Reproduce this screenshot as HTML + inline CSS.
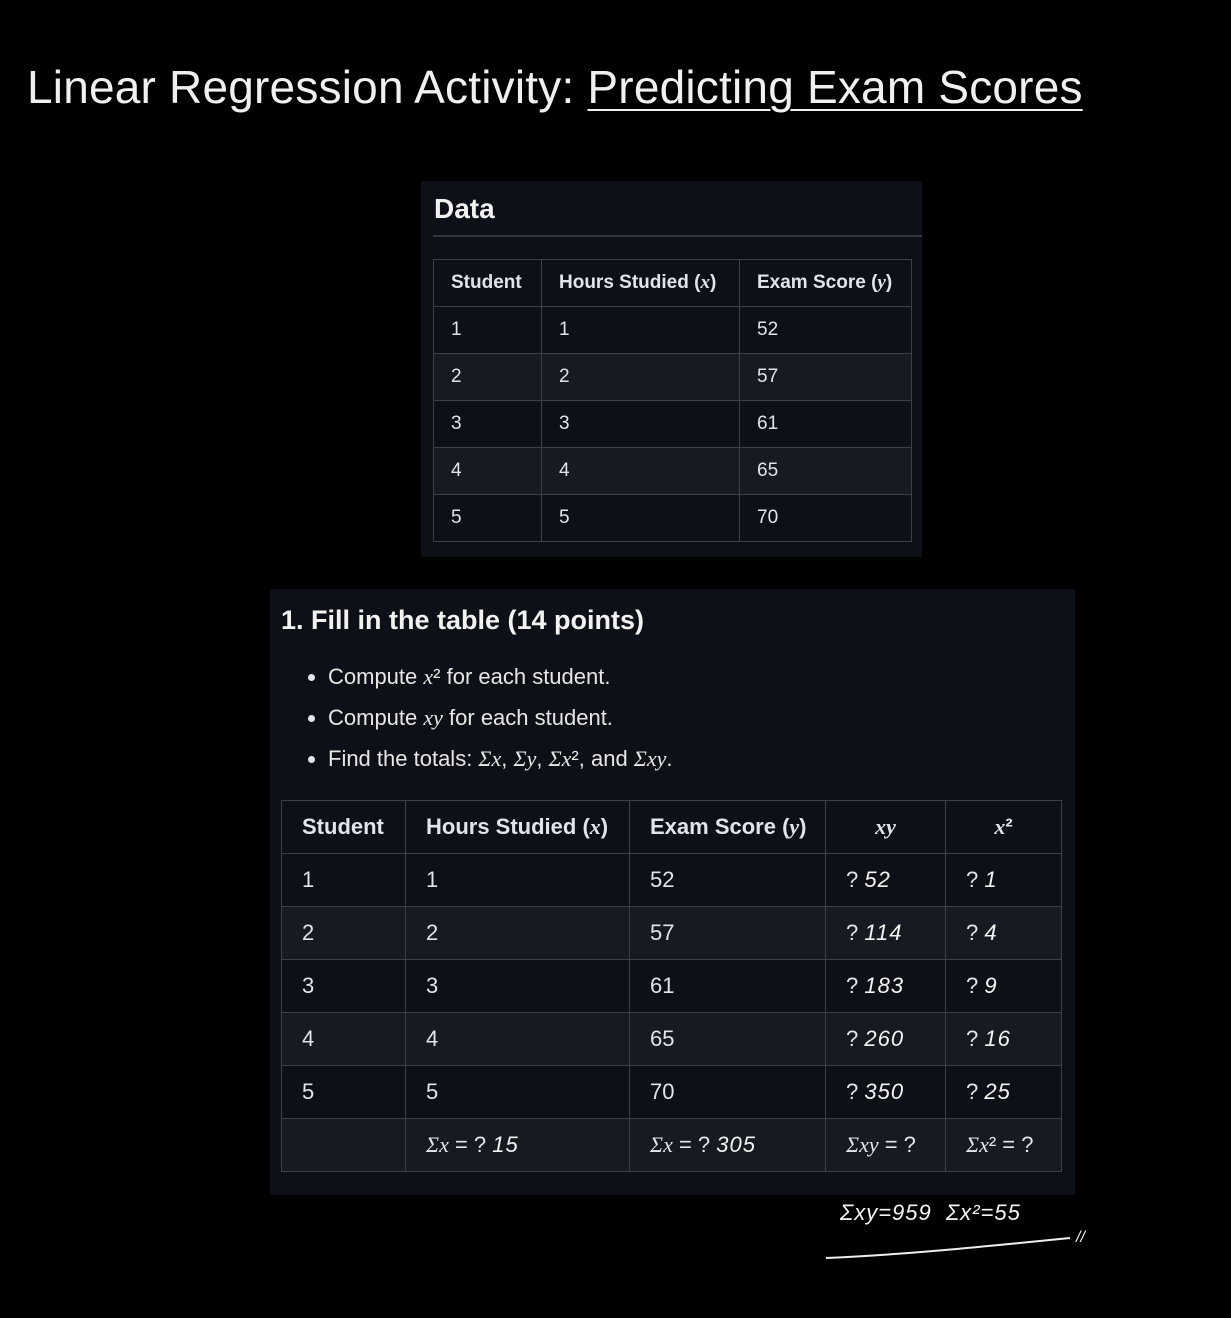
<!DOCTYPE html>
<html><head><meta charset="utf-8">
<style>
html,body{margin:0;padding:0;background:#000;width:1231px;height:1318px;overflow:hidden;font-family:"Liberation Sans",sans-serif;color:#e6edf3;}
.abs{position:absolute;}
#title{left:27px;top:60px;font-size:46px;letter-spacing:0.2px;color:#f0f0f0;white-space:nowrap;}
#title u{text-decoration-thickness:2px;text-underline-offset:6px;}
.panel{background:#0d1117;}
table{border-collapse:collapse;position:absolute;table-layout:fixed;}
td,th{border:1.5px solid #3a414a;text-align:left;padding:0 0 0 17px;font-weight:normal;color:#dfe5ea;}
th{font-weight:bold;}
tr.alt td{background:#161b22;}
.m{font-family:"Liberation Serif",serif;font-style:italic;}
.hw{font-family:"Liberation Sans",sans-serif;font-style:italic;font-weight:300;color:#f4f4f4;letter-spacing:1px;}
#t1 td,#t1 th{font-size:19px;height:46px;padding-left:17px;}
#t2 td,#t2 th{font-size:22px;height:52px;padding-left:20px;}
li{margin-bottom:15px;}
</style></head><body>
<div id="title" class="abs">Linear Regression Activity: <u>Predicting Exam Scores</u></div>

<div class="abs panel" style="left:421px;top:181px;width:501px;height:376px;">
  <div class="abs" style="left:13px;top:12px;font-size:28px;font-weight:bold;color:#f2f2f2;">Data</div>
  <div class="abs" style="left:12px;top:54px;width:489px;height:1.5px;background:#30363d;"></div>
  <table id="t1" style="left:12px;top:78px;width:478px;">
    <colgroup><col style="width:108px"><col style="width:198px"><col style="width:172px"></colgroup>
    <tr><th>Student</th><th>Hours Studied (<span class="m">x</span>)</th><th>Exam Score (<span class="m">y</span>)</th></tr>
    <tr><td>1</td><td>1</td><td>52</td></tr>
    <tr class="alt"><td>2</td><td>2</td><td>57</td></tr>
    <tr><td>3</td><td>3</td><td>61</td></tr>
    <tr class="alt"><td>4</td><td>4</td><td>65</td></tr>
    <tr><td>5</td><td>5</td><td>70</td></tr>
  </table>
</div>

<div class="abs panel" style="left:270px;top:589px;width:805px;height:606px;">
  <div class="abs" style="left:11px;top:16px;font-size:27px;font-weight:bold;color:#f2f2f2;">1. Fill in the table (14 points)</div>
  <ul class="abs" style="left:0;top:75px;margin:0;padding-left:58px;font-size:22px;color:#e6e6e6;">
    <li>Compute <span class="m">x</span>² for each student.</li>
    <li>Compute <span class="m">xy</span> for each student.</li>
    <li>Find the totals: <span class="m">Σx</span>, <span class="m">Σy</span>, <span class="m">Σx</span>², and <span class="m">Σxy</span>.</li>
  </ul>
  <table id="t2" style="left:11px;top:211px;width:780px;">
    <colgroup><col style="width:124px"><col style="width:224px"><col style="width:196px"><col style="width:120px"><col style="width:116px"></colgroup>
    <tr><th>Student</th><th>Hours Studied (<span class="m">x</span>)</th><th>Exam Score (<span class="m">y</span>)</th><th style="text-align:center;padding:0" class="m">xy</th><th style="text-align:center;padding:0"><span class="m">x</span>²</th></tr>
    <tr><td>1</td><td>1</td><td>52</td><td>? <span class="hw">52</span></td><td>? <span class="hw">1</span></td></tr>
    <tr class="alt"><td>2</td><td>2</td><td>57</td><td>? <span class="hw">114</span></td><td>? <span class="hw">4</span></td></tr>
    <tr><td>3</td><td>3</td><td>61</td><td>? <span class="hw">183</span></td><td>? <span class="hw">9</span></td></tr>
    <tr class="alt"><td>4</td><td>4</td><td>65</td><td>? <span class="hw">260</span></td><td>? <span class="hw">16</span></td></tr>
    <tr><td>5</td><td>5</td><td>70</td><td>? <span class="hw">350</span></td><td>? <span class="hw">25</span></td></tr>
    <tr class="alt"><td></td><td><span class="m">Σx</span> = ? <span class="hw">15</span></td><td><span class="m">Σx</span> = ? <span class="hw">305</span></td><td><span class="m">Σxy</span> = ?</td><td><span class="m">Σx</span>² = ?</td></tr>
  </table>
</div>

<div class="abs hw" style="left:840px;top:1200px;font-size:22px;">Σxy=959 &nbsp;Σx²=55</div>
<svg class="abs" style="left:820px;top:1222px;" width="280" height="45">
  <path d="M6 36 C 80 33, 160 25, 250 16" stroke="#eee" stroke-width="2" fill="none"/>
  <text x="256" y="20" fill="#eee" font-size="16" font-family="Liberation Sans" font-style="italic">//</text>
</svg>
</body></html>
